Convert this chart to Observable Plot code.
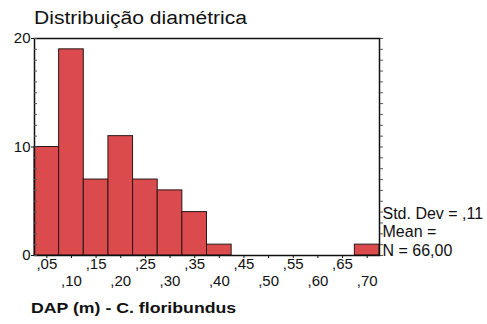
<!DOCTYPE html>
<html>
<head>
<meta charset="utf-8">
<script src="https://cdn.jsdelivr.net/npm/d3@7"></script>
<script src="https://cdn.jsdelivr.net/npm/@observablehq/plot@0.6"></script>
<style>
  body { margin: 0; background: #fff; font-family: "Liberation Sans", Arial, sans-serif; color: #111; }
  #title { height: 28px; box-sizing: border-box; padding: 8px 0 0 34px; font-size: 18px; line-height: 20px; white-space: nowrap; }
  #title span, #caption span { display: inline-block; transform-origin: left center; }
  #title span { transform: scaleX(1.17); }
  #caption { padding: 5px 0 0 31px; font-size: 15px; line-height: 18px; font-weight: bold; white-space: nowrap; }
  #caption span { transform: scaleX(1.18); }
  #chart svg { display: block; background: transparent; }
</style>
</head>
<body>
<div id="title"><span>Distribuição diamétrica</span></div>
<div id="chart"></div>
<div id="caption"><span>DAP (m) - C. floribundus</span></div>
<script>
// Histogram bins of DAP (m): bin centre and tree count
const binCenters = [0.05, 0.10, 0.15, 0.20, 0.25, 0.30, 0.35, 0.40, 0.45, 0.50, 0.55, 0.60, 0.65, 0.70];
const counts     = [10,   19,   7,    11,   7,    6,    4,    1,    0,    0,    0,    0,    0,    1];
const binWidth = 0.05;
const yTicks = [0, 10, 20];
const yMinorTicks = d3.range(0, 21);
const stdDevLabel = ",11";

const bins = binCenters.map((c, i) => ({center: c, count: counts[i]}));
const total = d3.sum(counts);

// decimal comma without leading zero, e.g. ",05"
const fmt = v => d3.format(".2f")(v).replace(/^0\./, ",");

const upperRow = binCenters.filter((_, i) => i % 2 === 0);
const lowerRow = binCenters.filter((_, i) => i % 2 === 1);

const statsText = [`Std. Dev = ${stdDevLabel}`, "Mean =", `N = ${d3.format(".2f")(total).replace(".", ",")}`].join("\n");

const chart = Plot.plot({
  width: 487,
  height: 266,
  marginTop: 10,
  marginBottom: 39,
  marginLeft: 34,
  marginRight: 108,
  style: {fontFamily: "Liberation Sans, Arial, sans-serif", fontSize: "15px", color: "#111", background: "transparent"},
  x: {domain: [binCenters[0] - binWidth / 2, binCenters[binCenters.length - 1] + binWidth / 2]},
  y: {domain: [0, 20]},
  marks: [
    Plot.rectY(bins.filter(d => d.count > 0), {
      x1: d => d.center - binWidth / 2,
      x2: d => d.center + binWidth / 2,
      y: "count",
      fill: "#db4a4d",
      stroke: "#2a1616",
      strokeWidth: 1
    }),
    Plot.frame({stroke: "#111", strokeWidth: 1.5}),
    // count axis
    Plot.axisY(yTicks, {anchor: "left", tickSize: 3, tickPadding: 1, label: null, fontSize: 15}),
    Plot.axisY(yMinorTicks, {anchor: "left", tickSize: -3, text: null, label: null, stroke: "#555"}),
    Plot.axisY(yMinorTicks, {anchor: "right", tickSize: 3, text: null, label: null, stroke: "#555"}),
    // staggered bin labels
    Plot.axisX(upperRow, {anchor: "bottom", tickSize: 3, tickPadding: 0, tickFormat: fmt, label: null, fontSize: 15}),
    Plot.axisX(lowerRow, {anchor: "bottom", tickSize: 3, tickPadding: 17, tickFormat: fmt, label: null, fontSize: 15}),
    // summary statistics
    Plot.text([statsText], {
      frameAnchor: "bottom-right",
      textAnchor: "start",
      lineAnchor: "bottom",
      lineHeight: 1.15,
      dx: 3,
      dy: 0,
      fontSize: 16,
      fill: "#111"
    })
  ]
});
document.getElementById("chart").appendChild(chart);
</script>
</body>
</html>
